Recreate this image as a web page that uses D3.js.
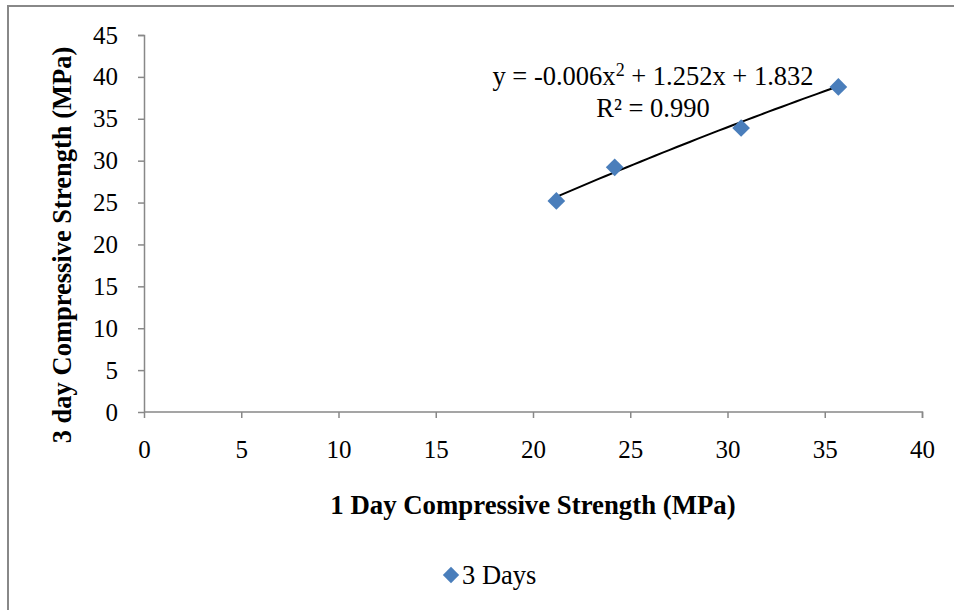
<!DOCTYPE html>
<html>
<head>
<meta charset="utf-8">
<script src="https://cdn.jsdelivr.net/npm/d3@7"></script>
<style>
	body { margin: 0; background: #fff; }
	svg { font-family: 'Liberation Serif', 'Times New Roman', serif; }
</style>
</head>
<body>
<svg class="display"></svg>
<script>
// data
const xValues = [21.2, 24.2, 30.7, 35.7];
const yValues = [25.2, 29.2, 33.9, 38.8];
const seriesName = '3 Days';
const xTicks = [0, 5, 10, 15, 20, 25, 30, 35, 40];
const yTicks = [0, 5, 10, 15, 20, 25, 30, 35, 40, 45];
// polynomial trendline coefficients shown on the chart (a x^2 + b x + c)
const trendCoef = [-0.006, 1.252, 1.832];
const trendR2 = '0.990';

//define area of graph
const totalWidth = 954,
	totalHeight = 610,
	margin = { top: 35, right: 32, bottom: 198, left: 144 },
	width = totalWidth - margin.left - margin.right,
	height = totalHeight - margin.top - margin.bottom;

const svg = d3
	.select('.display')
	.attr('width', totalWidth)
	.attr('height', totalHeight);

// outer chart border
svg
	.append('rect')
	.attr('x', 8)
	.attr('y', 6)
	.attr('width', 960)
	.attr('height', 640)
	.attr('fill', 'none')
	.attr('stroke', '#888')
	.attr('stroke-width', 2);

const display = svg
	.append('g')
	.attr('transform', 'translate(' + margin.left + ',' + margin.top + ')');

const xScale = d3.scaleLinear().domain([0, 40]).range([0, width]);
const yScale = d3.scaleLinear().domain([0, 45]).range([height, 0]);

const xAxis = d3.axisBottom(xScale).tickValues(xTicks).tickSize(6).tickPadding(22);
const yAxis = d3.axisLeft(yScale).tickValues(yTicks).tickSize(6).tickPadding(20);

const gx = display
	.append('g')
	.attr('transform', 'translate(0,' + height + ')')
	.call(xAxis);
const gy = display.append('g').call(yAxis);

[gx, gy].forEach((g) => {
	g.select('.domain').attr('stroke', '#888').attr('stroke-width', 1.5);
	g.selectAll('.tick line').attr('stroke', '#888').attr('stroke-width', 1.5);
	g.selectAll('.tick text')
		.attr('fill', '#000')
		.style('font-size', '25px')
		.style('font-family', "'Liberation Serif', serif");
});
gx.select('.domain').attr('d', 'M0.5,0H' + width + '.5V6');
gy.select('.domain').attr('d', 'M-6,0.5H0.5V' + height);

// trendline
const trendFn = (x) => trendCoef[0] * x * x + trendCoef[1] * x + trendCoef[2];
const xMin = d3.min(xValues),
	xMax = d3.max(xValues);
const trendPts = d3.range(0, 41).map((i) => {
	const x = xMin + ((xMax - xMin) * i) / 40;
	return [x, trendFn(x)];
});
display
	.append('path')
	.datum(trendPts)
	.attr('fill', 'none')
	.attr('stroke', '#000')
	.attr('stroke-width', 2)
	.attr(
		'd',
		d3
			.line()
			.x((d) => xScale(d[0]))
			.y((d) => yScale(d[1]))
	);

// markers
const diamond = d3.symbol().type(d3.symbolDiamond2).size(200);
display
	.selectAll('.pt')
	.data(xValues)
	.enter()
	.append('path')
	.attr('class', 'pt')
	.attr('d', diamond)
	.attr('fill', '#4a7ebb')
	.attr('transform', (d, i) => 'translate(' + xScale(d) + ',' + yScale(yValues[i]) + ')');

// trendline label
const eq = svg
	.append('text')
	.attr('x', 653)
	.attr('y', 85)
	.attr('text-anchor', 'middle')
	.style('font-size', '26.5px');
eq.append('tspan').text('y = ' + trendCoef[0] + 'x');
eq.append('tspan').attr('dy', -9).style('font-size', '18px').text('2');
eq.append('tspan')
	.attr('dy', 9)
	.text(' + ' + trendCoef[1] + 'x + ' + trendCoef[2]);
svg
	.append('text')
	.attr('x', 653)
	.attr('y', 117)
	.attr('text-anchor', 'middle')
	.style('font-size', '26.5px')
	.text('R² = ' + trendR2);

//axis titles
svg
	.append('text')
	.attr('x', 533)
	.attr('y', 514)
	.attr('text-anchor', 'middle')
	.style('font-size', '26.8px')
	.style('font-weight', 'bold')
	.text('1 Day Compressive Strength (MPa)');
svg
	.append('text')
	.attr('transform', 'translate(71,245) rotate(-90)')
	.attr('text-anchor', 'middle')
	.style('font-size', '26.5px')
	.style('font-weight', 'bold')
	.text('3 day Compressive Strength (MPa)');

// legend
const legend = svg.append('g').attr('transform', 'translate(451,575)');
legend
	.append('path')
	.attr('d', d3.symbol().type(d3.symbolDiamond2).size(170))
	.attr('fill', '#4a7ebb');
legend
	.append('text')
	.attr('x', 11)
	.attr('y', 9)
	.style('font-size', '26.5px')
	.text(seriesName);
</script>
</body>
</html>
